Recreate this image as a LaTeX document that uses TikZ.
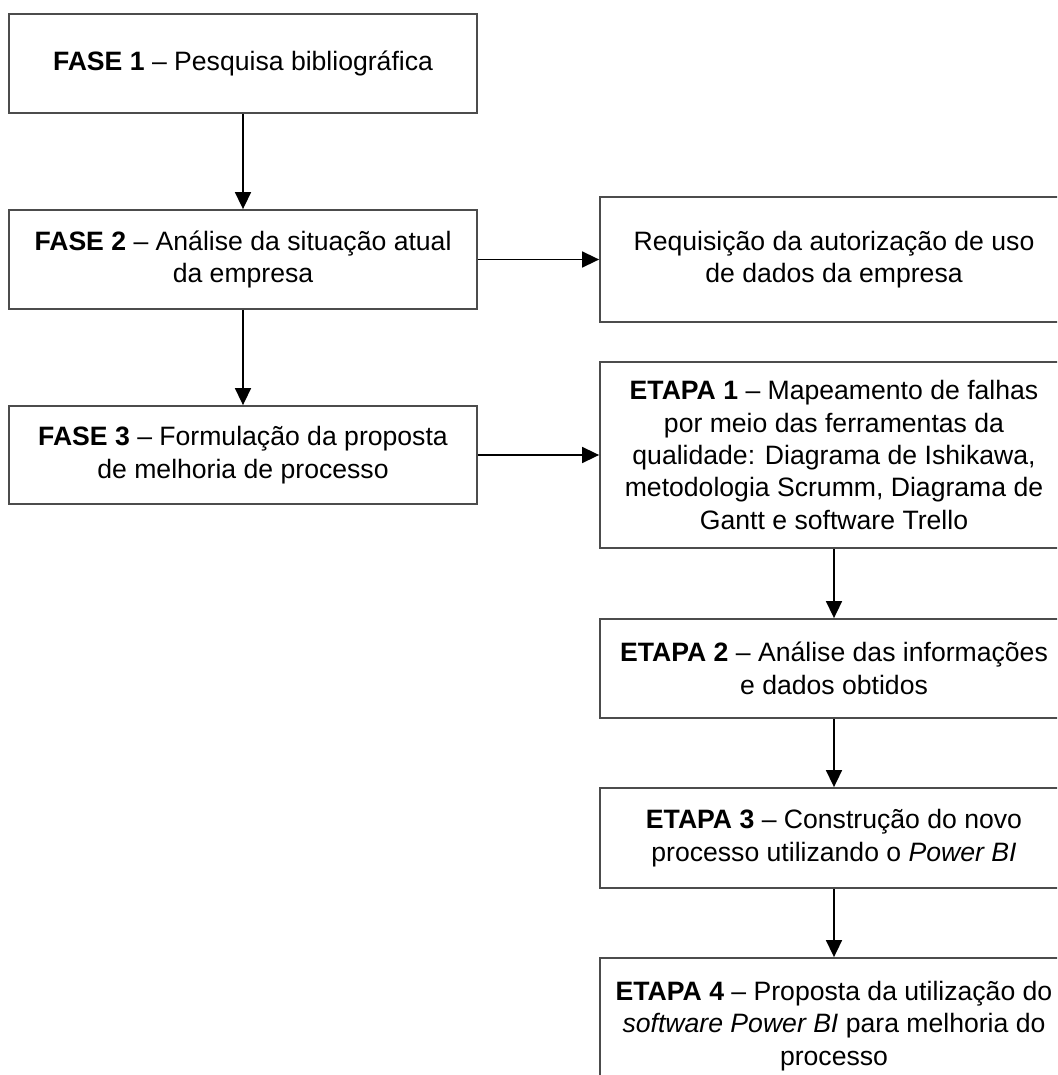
\documentclass[tikz,border=0pt]{standalone}
\usepackage{fontspec}
\setmainfont{Liberation Sans}
\usetikzlibrary{arrows.meta}
\begin{document}
\begin{tikzpicture}[x=0.5pt,y=-0.5pt,>={Triangle[length=8.5pt,width=8pt]},
	caixa/.style={draw=black!70,line width=0.9pt,align=center,inner sep=0pt,minimum width=234pt,font=\fontsize{13.3}{16.2}\selectfont},
	seta/.style={->,line width=0.8pt}]
			\clip (0,0) rectangle (1057,1075);
			\node[caixa,minimum height=49.5pt] (f1) at (243,63.5) {\textbf{FASE 1} – Pesquisa bibliográfica};
			\node[caixa,minimum height=49.5pt] (f2) at (243,259.5) {\textbf{FASE 2} – Análise da situação atual\\da empresa};
			\node[caixa,minimum height=49pt] (f3) at (243,455) {\textbf{FASE 3} – Formulação da proposta\\de melhoria de processo};
			\node[caixa,minimum height=62.5pt] (req) at (834,259.5) {Requisição da autorização de uso\\de dados da empresa};
			\node[caixa,minimum height=93pt] (e1) at (834,455) {\textbf{ETAPA 1} – Mapeamento de falhas\\por meio das ferramentas da\\qualidade: Diagrama de Ishikawa,\\metodologia Scrumm, Diagrama de\\Gantt e software Trello};
			\node[caixa,minimum height=49.5pt] (e2) at (834,668.5) {\textbf{ETAPA 2} – Análise das informações\\e dados obtidos};
			\node[caixa,minimum height=50pt] (e3) at (834,838) {\textbf{ETAPA 3} – Construção do novo\\processo utilizando o \textit{Power BI}};
			\node[caixa,minimum height=68pt] (e4) at (834,1026) {\textbf{ETAPA 4} – Proposta da utilização do\\\textit{software Power BI} para melhoria do\\processo};
			\foreach \a/\b in {f1/f2, f2/f3, e1/e2, e2/e3, e3/e4}
			\draw[seta] (\a.south) -- (\b.north);
			\draw[seta] (f2.east) -- (req.west);
			\draw[seta] (f3.east) -- (e1.west);
		\end{tikzpicture}
\end{document}
